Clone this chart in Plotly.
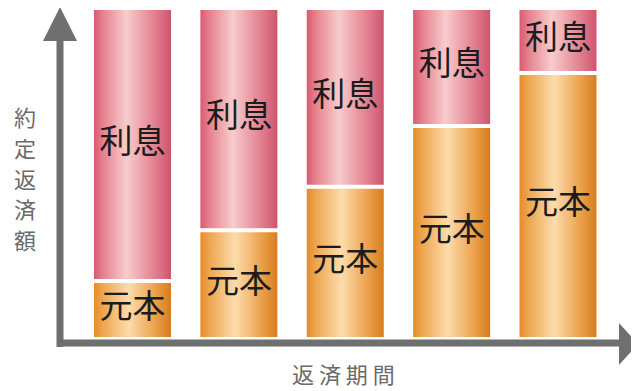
import plotly.graph_objects as go

# ---- data ----
periods = ["1", "2", "3", "4", "5"]          # repayment periods (x categories)
principal = [16.5, 32.0, 45.3, 63.9, 80.1]   # 元本 share of the fixed repayment
interest = [83.5, 68.0, 54.7, 36.1, 19.9]    # 利息 share of the fixed repayment
seg_labels = ["元本", "利息"]
x_title = "返済期間"
y_title = "約定返済額"

# ---- style ----
OFF = 8                      # page body margin of the browser
W, H = 639 - OFF, 391 - OFF  # figure size that fits the window
BAR_W = 0.724
GAP = 1.25
AXIS_COLOR = "#6f6f6f"
FONT = "Noto Sans CJK JP"

pink_scale = [[0, "#d95a72"], [0.12, "#e6828e"], [0.42, "#f8cccc"],
              [0.75, "#e48896"], [1, "#cf546d"]]
orange_scale = [[0, "#e68c28"], [0.12, "#eea650"], [0.45, "#fcdcac"],
                [0.8, "#eba04a"], [1, "#d77c1d"]]

fig = go.Figure()
xs = list(range(len(periods)))

def seg(x, y0, y1, scale):
    x0, x1 = x - BAR_W / 2, x + BAR_W / 2
    fig.add_trace(go.Scatter(
        x=[x0, x1, x1, x0, x0], y=[y0, y0, y1, y1, y0],
        mode="lines", fill="toself",
        line=dict(width=0, color="rgba(0,0,0,0)"),
        fillgradient=dict(type="horizontal", colorscale=scale),
        hoverinfo="skip", showlegend=False))

for i, (p, q) in enumerate(zip(principal, interest)):
    seg(xs[i], 0, p, orange_scale)
    seg(xs[i], p + GAP, p + q, pink_scale)

# segment labels, centred in each segment
lab_x, lab_y, lab_t = [], [], []
for i, (p, q) in enumerate(zip(principal, interest)):
    lab_x += [xs[i], xs[i]]
    lab_y += [p / 2, p + GAP + (q - GAP) / 2]
    lab_t += [seg_labels[0], seg_labels[1]]
fig.add_trace(go.Scatter(
    x=lab_x, y=lab_y, text=lab_t, mode="text",
    textfont=dict(family=FONT, size=33, color="#1c1c1c"),
    hoverinfo="skip", showlegend=False))

# pixel helpers for decorations (reference-image pixels -> paper)
def px(x):
    return (x - OFF) / W

def py(y):
    return 1 - (y - OFF) / H

shapes = [
    # y axis line + arrow head
    dict(type="line", xref="paper", yref="paper", x0=px(60), x1=px(60),
         y0=py(347), y1=py(38), line=dict(color=AXIS_COLOR, width=7)),
    dict(type="path", xref="paper", yref="paper",
         path=f"M {px(60)},{py(7)} L {px(43)},{py(41)} L {px(77)},{py(41)} Z",
         fillcolor=AXIS_COLOR, line=dict(width=0)),
    # x axis line + arrow head
    dict(type="line", xref="paper", yref="paper", x0=px(57), x1=px(622),
         y0=py(343), y1=py(343), line=dict(color=AXIS_COLOR, width=7)),
    dict(type="path", xref="paper", yref="paper",
         path=f"M {px(638)},{py(344)} L {px(619)},{py(323)} L {px(619)},{py(365)} Z",
         fillcolor=AXIS_COLOR, line=dict(width=0)),
]

annotations = []
# vertical y title: one character per line
for k, ch in enumerate(y_title):
    annotations.append(dict(
        text=ch, xref="paper", yref="paper", x=px(25), y=py(116 + 30.8 * k),
        showarrow=False, xanchor="center", yanchor="middle",
        font=dict(family=FONT, size=22, color="#6a6a6a")))
annotations.append(dict(
    text=" ".join(list(x_title)), xref="paper", yref="paper",
    x=px(343), y=py(390), showarrow=False, xanchor="center", yanchor="bottom",
    borderpad=0, font=dict(family=FONT, size=22, color="#6a6a6a")))

# axis ranges so that bar centres / heights land where the reference has them
xscale = 106.375
xmin = -(132.5 - OFF) / xscale
xmax = xmin + W / xscale
yscale = 3.27
ymax = 100 + (10 - OFF) / yscale
ymin = ymax - H / yscale

fig.update_layout(
    width=W, height=H, margin=dict(l=0, r=0, t=0, b=0),
    paper_bgcolor="white", plot_bgcolor="white",
    xaxis=dict(range=[xmin, xmax], visible=False, fixedrange=True),
    yaxis=dict(range=[ymin, ymax], visible=False, fixedrange=True),
    shapes=shapes, annotations=annotations,
    font=dict(family=FONT),
)

fig.write_html("out.html")
